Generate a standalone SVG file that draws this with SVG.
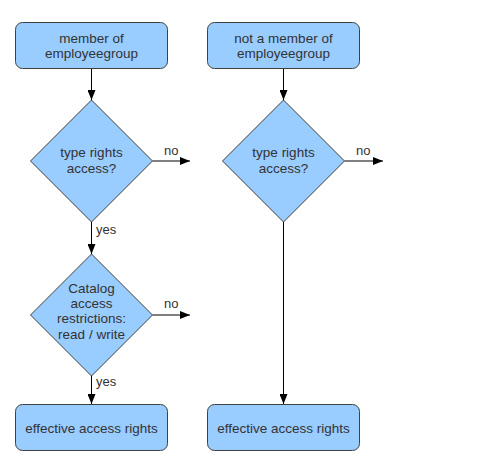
<svg xmlns="http://www.w3.org/2000/svg" width="489" height="470" viewBox="0 0 489 470">
<style>
.box{fill:#99ccff;stroke:#404040;stroke-width:1}
.t{font-family:"Liberation Sans",Arial,sans-serif;font-size:13.5px;fill:#333;text-anchor:middle}
.l{font-family:"Liberation Sans",Arial,sans-serif;font-size:13px;fill:#333}
.c{stroke:#000;stroke-width:1;fill:none;marker-end:url(#ah)}
</style>
<defs>
<marker id="ah" markerWidth="10" markerHeight="8" refX="10" refY="4" orient="auto" markerUnits="userSpaceOnUse">
<path d="M0,0 L10,4 L0,8 z" fill="#000"/>
</marker>
</defs>
<rect width="489" height="470" fill="#fff"/>
<g id="connectors">
<line class="c" x1="91.5" y1="68" x2="91.5" y2="100"/>
<line class="c" x1="91.5" y1="222" x2="91.5" y2="254"/>
<line class="c" x1="91.5" y1="376" x2="91.5" y2="404"/>
<line class="c" x1="152.5" y1="161" x2="190" y2="161"/>
<line class="c" x1="152.5" y1="315" x2="190" y2="315"/>
<line class="c" x1="283.5" y1="68" x2="283.5" y2="100"/>
<line class="c" x1="283.5" y1="222" x2="283.5" y2="404"/>
<line class="c" x1="344.5" y1="161" x2="383" y2="161"/>
<text class="l" x="164" y="155">no</text>
<text class="l" x="164" y="308">no</text>
<text class="l" x="356" y="155">no</text>
<text class="l" x="96" y="234">yes</text>
<text class="l" x="96" y="386">yes</text>
</g>
<g id="n1">
<rect class="box" x="15.5" y="22.5" width="152" height="46" rx="7"/>
<text class="t" x="91.5" y="43">member of</text>
<text class="t" x="91.5" y="58">employeegroup</text>
</g>
<g id="n2">
<rect class="box" x="207.5" y="22.5" width="152" height="46" rx="7"/>
<text class="t" x="283.5" y="43">not a member of</text>
<text class="t" x="283.5" y="58">employeegroup</text>
</g>
<g id="d1">
<polygon class="box" points="91.5,100 152.5,161 91.5,222 30.5,161"/>
<text class="t" x="91.5" y="157">type rights</text>
<text class="t" x="91.5" y="173">access?</text>
</g>
<g id="d2">
<polygon class="box" points="91.5,254 152.5,315 91.5,376 30.5,315"/>
<text class="t" x="91.5" y="293">Catalog</text>
<text class="t" x="91.5" y="308">access</text>
<text class="t" x="91.5" y="323">restrictions:</text>
<text class="t" x="91.5" y="339">read / write</text>
</g>
<g id="d3">
<polygon class="box" points="283.5,100 344.5,161 283.5,222 222.5,161"/>
<text class="t" x="283.5" y="157">type rights</text>
<text class="t" x="283.5" y="173">access?</text>
</g>
<g id="n3">
<rect class="box" x="15.5" y="404.5" width="152" height="46" rx="7"/>
<text class="t" x="91.5" y="433">effective access rights</text>
</g>
<g id="n4">
<rect class="box" x="207.5" y="404.5" width="152" height="46" rx="7"/>
<text class="t" x="283.5" y="433">effective access rights</text>
</g>
</svg>
